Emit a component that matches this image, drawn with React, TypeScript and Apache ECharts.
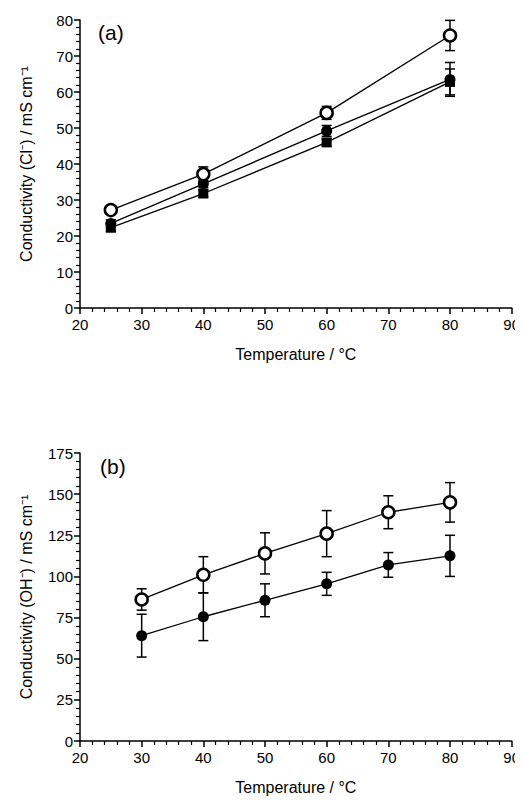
import React, { useEffect, useRef } from "react";
import * as echarts from "echarts";

// panel (a): Cl- conductivity
const tempA = [25, 40, 60, 80];
const openA = [27.2, 37.2, 54.2, 75.7];
const openAErr = [1, 2, 1.8, 4.2];
const fillA = [23.5, 34.5, 49.2, 63.5];
const fillAErr = [1, 1, 1.5, 4.7];
const squareA = [22.3, 31.8, 46, 62.8];
const squareAErr = [1, 1, 1, 3.6];

// panel (b): OH- conductivity
const tempB = [30, 40, 50, 60, 70, 80];
const openB = [86, 101, 114, 126, 139, 145];
const openBErr = [6.5, 11, 12.5, 14, 10, 12];
const fillB = [64, 75.5, 85.5, 95.5, 107, 112.5];
const fillBErr = [13, 14.5, 10, 7, 7.5, 12.5];

const font = "Liberation Sans, Arial, sans-serif";

const pts = (xs: number[], ys: number[]) => xs.map((x, i) => [x, ys[i]]);
const errPts = (xs: number[], ys: number[], es: number[]) =>
  xs.map((x, i) => [x, ys[i] - es[i], ys[i] + es[i]]);

const errSeries = (data: number[][], idx: number) => ({
  type: "custom",
  xAxisIndex: idx,
  yAxisIndex: idx,
  z: 1,
  data,
  encode: { x: 0, y: [1, 2] },
  renderItem: (params: any, api: any) => {
    const lo = api.coord([api.value(0), api.value(1)]);
    const hi = api.coord([api.value(0), api.value(2)]);
    const st = { stroke: "#000", lineWidth: 1.5 };
    return {
      type: "group",
      children: [
        { type: "line", shape: { x1: lo[0], y1: lo[1], x2: hi[0], y2: hi[1] }, style: st },
        { type: "line", shape: { x1: lo[0] - 5, y1: lo[1], x2: lo[0] + 5, y2: lo[1] }, style: st },
        { type: "line", shape: { x1: hi[0] - 5, y1: hi[1], x2: hi[0] + 5, y2: hi[1] }, style: st },
      ],
    };
  },
});

const lineSeries = (data: number[][], idx: number, kind: "open" | "fill" | "square") => ({
  type: "line",
  xAxisIndex: idx,
  yAxisIndex: idx,
  z: 3,
  data,
  symbol: kind === "square" ? "rect" : "circle",
  symbolSize: kind === "open" ? 12 : kind === "square" ? 10 : 11,
  lineStyle: { color: "#000", width: 1.3 },
  itemStyle: {
    color: kind === "open" ? "#fff" : "#000",
    borderColor: "#000",
    borderWidth: kind === "open" ? 2.5 : 0,
  },
});

const xAxisCfg = (idx: number) => ({
  gridIndex: idx,
  type: "value",
  min: 20,
  max: 90,
  interval: 10,
  name: "Temperature / °C",
  nameLocation: "middle",
  nameGap: 38,
  nameTextStyle: { fontFamily: font, fontSize: 16, color: "#000" },
  axisLine: { lineStyle: { color: "#000", width: 1.5 } },
  axisTick: { inside: false, length: 6, lineStyle: { color: "#000", width: 1.5 } },
  minorTick: { show: true, splitNumber: 5, length: 4, lineStyle: { color: "#000", width: 1.2 } },
  axisLabel: { fontFamily: font, fontSize: 15, color: "#000", margin: 9 },
  splitLine: { show: false },
});

const yAxisCfg = (idx: number, max: number, interval: number, name: string) => ({
  gridIndex: idx,
  type: "value",
  min: 0,
  max,
  interval,
  name,
  nameLocation: "middle",
  nameGap: 46,
  nameTextStyle: { fontFamily: font, fontSize: 16, color: "#000" },
  axisLine: { show: true, lineStyle: { color: "#000", width: 1.5 } },
  axisTick: { show: true, length: 6, lineStyle: { color: "#000", width: 1.5 } },
  minorTick: { show: true, splitNumber: 5, length: 4, lineStyle: { color: "#000", width: 1.2 } },
  axisLabel: { fontFamily: font, fontSize: 15, color: "#000", margin: 7 },
  splitLine: { show: false },
});

const App: React.FC = () => {
  const ref = useRef<HTMLDivElement>(null);

  useEffect(() => {
    const chart = echarts.init(ref.current!, null, { renderer: "svg" });
    chart.setOption({
      animation: false,
      backgroundColor: "#fff",
      grid: [
        { left: 80, top: 20, width: 432, height: 288 },
        { left: 80, top: 453, width: 432, height: 288 },
      ],
      xAxis: [xAxisCfg(0), xAxisCfg(1)],
      yAxis: [
        yAxisCfg(0, 80, 10, "Conductivity (Cl⁻) / mS cm⁻¹"),
        yAxisCfg(1, 175, 25, "Conductivity (OH⁻) / mS cm⁻¹"),
      ],
      graphic: [
        { type: "text", left: 98, top: 22, style: { text: "(a)", font: `21px ${font}`, fill: "#000" } },
        { type: "text", left: 100, top: 456, style: { text: "(b)", font: `21px ${font}`, fill: "#000" } },
      ],
      series: [
        errSeries(errPts(tempA, openA, openAErr), 0),
        errSeries(errPts(tempA, fillA, fillAErr), 0),
        errSeries(errPts(tempA, squareA, squareAErr), 0),
        lineSeries(pts(tempA, squareA), 0, "square"),
        lineSeries(pts(tempA, fillA), 0, "fill"),
        lineSeries(pts(tempA, openA), 0, "open"),
        errSeries(errPts(tempB, openB, openBErr), 1),
        errSeries(errPts(tempB, fillB, fillBErr), 1),
        lineSeries(pts(tempB, fillB), 1, "fill"),
        lineSeries(pts(tempB, openB), 1, "open"),
      ],
    });
    return () => chart.dispose();
  }, []);

  return <div ref={ref} style={{ width: 523, height: 810, margin: -8 }} />;
};

export default App;
